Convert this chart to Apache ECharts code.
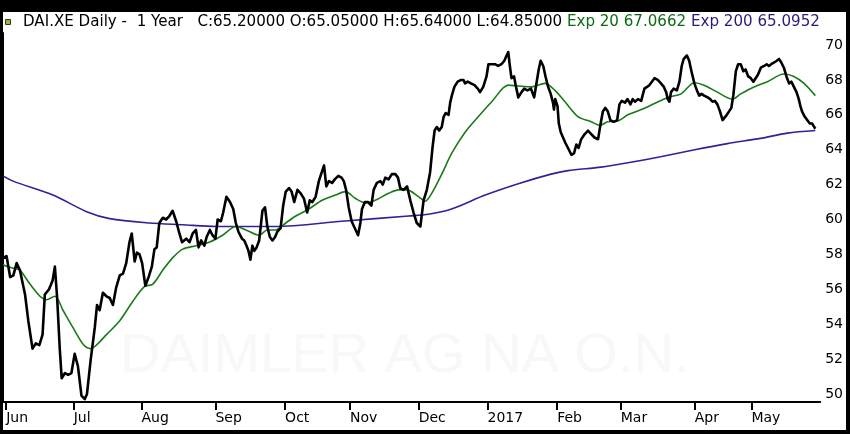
<!DOCTYPE html>
<html>
<head>
<meta charset="utf-8">
<script src="https://cdn.jsdelivr.net/npm/echarts@6/dist/echarts.min.js"></script>
<style>
  html, body { margin: 0; padding: 0; background: #000; width: 850px; height: 434px; overflow: hidden; }
  #chart { position: absolute; left: 3px; top: 12px; width: 843px; height: 418px; background: #fff; }
</style>
</head>
<body>
<div id="chart"></div>
<script>
// x values are trading-day positions counted from the start of the window
const monthLabels = ['Jun', 'Jul', 'Aug', 'Sep', 'Oct', 'Nov', 'Dec', '2017', 'Feb', 'Mar', 'Apr', 'May'];
const monthStartDay = [1, 21.8, 42.7, 65.5, 87, 107, 128.2, 149.4, 170.9, 190.5, 213.3, 230.8];
const priceTicks = [50, 52, 54, 56, 58, 60, 62, 64, 66, 68, 70];

const closeJunAug = [[0.1,57.8],[1.1,57.9],[2.2,56.7],[3.2,56.8],[4.2,57.5],[5.2,57.1],[6.8,55.7],[7.8,54.2],[9.1,52.6],[10.1,52.9],[11.2,52.8],[12.2,53.4],[12.9,55.7],[14.2,56.0],[15.3,56.5],[16.0,57.3],[16.7,55.5],[17.5,52.6],[18.1,50.9],[19.1,51.2],[20.1,51.1],[21.1,51.2],[22.1,52.3],[23.1,51.6],[24.2,49.9],[25.2,49.7],[25.9,50.0],[27.0,51.9],[28.3,53.8],[29.0,55.1],[29.8,54.8],[30.8,55.8],[31.9,55.6],[32.9,55.5],[33.9,55.1],[34.9,56.1],[36.0,56.8],[37.0,56.9],[38.0,57.5],[39.0,58.7],[39.7,59.2],[40.6,57.6],[41.3,58.1],[42.1,58.0],[42.9,57.5],[43.9,56.2],[44.9,56.7],[45.9,57.3],[46.7,58.3],[47.4,58.4],[48.2,59.8],[49.3,60.1],[50.3,60.0],[51.3,60.2],[52.3,60.5],[53.4,59.9],[54.4,59.2],[55.2,58.7],[56.5,58.9],[57.5,58.7],[58.5,59.2],[59.5,59.4],[60.3,58.4],[61.1,58.8],[62.1,58.5],[62.8,59.0],[63.8,59.4]];
const closeSepNov = [[64.6,59.1],[65.5,58.9],[66.2,60.0],[67.2,59.9],[67.9,60.4],[68.9,61.3],[70.0,61.0],[71.0,60.6],[71.8,59.8],[72.6,59.3],[73.7,58.9],[74.4,58.8],[75.1,58.5],[75.7,58.2],[76.3,57.7],[76.9,58.5],[77.5,58.2],[78.2,58.4],[79.0,58.8],[80.0,60.5],[80.8,60.7],[81.5,59.6],[82.3,59.0],[83.1,58.8],[83.9,59.0],[84.6,59.3],[85.6,59.5],[86.4,60.8],[87.2,61.6],[88.2,61.8],[89.0,61.6],[89.8,61.0],[90.8,61.7],[91.8,61.5],[92.8,61.2],[93.8,60.4],[94.6,61.1],[95.4,61.0],[96.4,61.3],[97.4,62.2],[98.1,62.6],[99.0,63.1],[99.7,61.9],[100.5,62.2],[101.5,62.1],[102.3,62.3],[103.4,62.5],[104.4,62.4],[105.1,62.2],[105.8,61.7],[106.6,60.7],[107.5,59.9],[108.5,59.5],[109.5,59.1],[110.2,59.8],[110.7,60.6],[111.6,61.0],[112.6,61.0],[113.6,60.8],[114.3,61.7],[115.3,62.1],[116.4,62.2],[117.1,62.0],[117.9,62.4],[118.9,62.3],[119.9,62.6],[121.0,62.6],[121.8,62.4],[122.5,61.8],[123.5,61.7],[124.6,61.9],[125.6,61.1],[126.6,60.4],[127.6,59.8],[128.7,59.6]];
const closeDecFeb = [[129.2,59.7],[129.7,61.1],[130.7,61.7],[131.7,62.7],[132.5,64.2],[133.1,65.1],[133.8,65.3],[134.5,65.1],[135.3,65.3],[135.9,65.9],[136.5,66.1],[137.4,66.0],[137.9,66.7],[138.4,67.1],[139.2,67.6],[140.2,67.9],[141.3,68.0],[142.0,68.0],[142.5,67.8],[143.3,67.9],[144.3,67.8],[145.4,67.7],[146.4,67.5],[147.1,67.3],[148.1,67.6],[149.1,68.2],[149.7,68.9],[150.7,68.9],[151.7,68.9],[152.7,68.8],[153.7,68.9],[154.6,69.1],[155.3,69.4],[155.8,69.6],[156.3,68.8],[156.8,68.1],[157.6,68.2],[158.1,67.7],[158.9,67.0],[159.9,67.3],[160.7,67.5],[161.7,67.4],[162.8,67.5],[163.8,67.0],[164.5,67.8],[165.2,68.6],[165.8,69.1],[166.6,68.8],[167.3,68.2],[168.1,67.6],[168.9,67.2],[169.6,66.7],[169.9,66.3],[170.3,66.9],[171.0,66.5],[171.4,65.5],[172.0,65.0],[172.7,64.7],[173.4,64.4],[174.5,64.0],[175.3,63.7],[176.1,63.8],[176.8,64.3],[177.5,64.1],[178.3,64.6],[179.4,64.9],[180.4,65.1],[181.4,64.9],[182.4,64.7],[183.5,64.6],[184.3,65.5],[185.0,66.2],[185.7,66.4],[186.5,66.2],[187.3,65.7],[188.3,65.6],[189.4,65.7],[190.1,66.6],[190.8,66.8],[191.8,66.7],[192.6,66.9]];
const closeMarMay = [[193.5,66.6],[194.2,66.9],[194.9,66.75],[195.8,66.9],[196.8,66.8],[197.8,67.5],[198.6,67.6],[199.3,67.7],[200.1,67.9],[200.9,68.1],[201.9,68.0],[202.9,67.8],[203.8,67.6],[204.5,67.3],[205.0,66.9],[205.5,66.75],[206.0,67.3],[206.8,67.5],[207.8,67.4],[208.6,67.9],[209.3,68.8],[209.9,69.2],[210.9,69.4],[211.6,69.1],[212.3,68.5],[213.2,67.8],[214.0,67.4],[214.7,67.1],[215.4,67.2],[216.2,67.1],[217.3,67.0],[218.1,66.9],[218.8,66.75],[219.5,66.8],[220.3,66.6],[221.1,66.2],[221.9,65.7],[222.4,65.6],[223.2,66.0],[223.9,66.2],[224.6,66.4],[225.2,67.1],[226.0,68.5],[226.7,68.9],[227.5,68.9],[228.3,68.5],[229.0,68.6],[229.8,68.2],[230.6,68.1],[231.4,67.9],[232.1,68.1],[232.8,68.3],[233.7,68.7],[234.7,68.8],[235.5,68.9],[236.2,68.8],[236.9,68.9],[237.8,69.0],[238.6,69.1],[239.3,69.2],[240.0,69.0],[240.8,68.7],[241.6,68.2],[242.4,67.8],[243.1,67.9],[243.9,67.6],[244.7,67.3],[245.4,66.9],[245.9,66.5],[246.4,66.2],[247.2,65.9],[248.0,65.7],[248.8,65.5],[249.5,65.5],[250.0,65.35],[250.5,65.2]];

const exp20 = [[0,57.4],[3.2,57.2],[5.2,57.1],[8.3,56.3],[11.4,55.6],[13.4,55.4],[16,55.6],[18.5,54.8],[21.6,53.8],[24.7,52.85],[27,52.6],[28.8,52.8],[31.9,53.4],[36,54.2],[40,55.3],[43.6,56.15],[46.2,56.3],[49.3,57.1],[52.3,57.8],[55.4,58.3],[59.5,58.5],[63.6,58.7],[67.7,59.1],[71.8,59.6],[74.9,59.4],[79,59.1],[81.5,59.4],[84.1,59.4],[87.2,59.8],[90.3,60.2],[94.3,60.6],[98.4,61.1],[102.5,61.4],[105.6,61.6],[108.7,61.2],[111.8,60.95],[114.8,61.1],[118.9,61.5],[122,61.7],[124.6,61.7],[128.2,61.3],[130.2,61.05],[132.2,61.5],[135.3,62.6],[138.4,63.8],[142.5,65.0],[146.6,65.9],[150.7,66.75],[155.8,67.7],[158.9,67.65],[163,67.6],[167.1,67.8],[170.2,67.4],[173.3,66.75],[177.3,65.9],[181.4,65.6],[184,65.4],[186.5,65.6],[189.6,65.65],[192.7,66.0],[196.8,66.3],[200.9,66.65],[205,67.0],[209.1,67.2],[213.2,67.84],[216.2,67.7],[220.3,67.3],[224.9,66.9],[227.5,67.2],[231.6,67.6],[235.7,67.9],[240.8,68.34],[243.9,68.2],[247,67.8],[250.5,67.1]];
const exp200 = [[0,62.5],[3.1,62.2],[15.4,61.4],[25.8,60.45],[32.9,60.05],[45.2,59.8],[55.3,59.7],[65.8,59.6],[84.2,59.6],[104.5,59.9],[125.1,60.2],[131.2,60.3],[138.3,60.6],[148.7,61.4],[158.9,62.05],[169,62.6],[174.2,62.8],[184.4,63.0],[192.7,63.25],[202.8,63.6],[213.3,64.0],[223.4,64.35],[233.6,64.65],[241.9,64.95],[250.5,65.1]];

const close = closeJunAug.concat(closeSepNov, closeDecFeb, closeMarMay);

const FONT = 'DejaVu Sans';
const TS = 15.1;
const chart = echarts.init(document.getElementById('chart'), null, { renderer: 'canvas' });
chart.setOption({
  animation: false,
  backgroundColor: '#fff',
  title: {
    left: 20, top: 3, padding: 0,
    text: '{k|DAI.XE Daily -  1 Year   C:65.20000 O:65.05000 H:65.64000 L:64.85000} {g|Exp 20 67.0662} {p|Exp 200 65.0952}',
    textStyle: {
      fontWeight: 'normal', fontFamily: FONT, fontSize: TS,
      rich: {
        k: { color: '#000', fontFamily: FONT, fontSize: TS, fontWeight: 'normal' },
        g: { color: '#0b6b12', fontFamily: FONT, fontSize: TS, fontWeight: 'normal' },
        p: { color: '#2a1a7e', fontFamily: FONT, fontSize: TS, fontWeight: 'normal' }
      }
    }
  },
  graphic: [
    { type: 'rect', left: 2, top: 7, shape: { width: 5, height: 5 }, style: { fill: '#a4b035', stroke: '#333', lineWidth: 1 }, z: 10 },
    { type: 'text', left: 117, top: 317, z: 0,
      style: { text: 'DAIMLER AG NA O.N.', font: '56px "Liberation Sans"', fill: '#f8f8f8' } }
  ],
  grid: { left: 0, right: 23, top: 21, bottom: 28, containLabel: false },
  xAxis: {
    type: 'value', min: 0, max: 252,
    splitLine: { show: false },
    axisLine: { show: true, onZero: false, lineStyle: { color: '#000', width: 2 } },
    axisTick: { show: true, customValues: monthStartDay, length: 8, inside: false, lineStyle: { color: '#000', width: 2 } },
    axisLabel: {
      customValues: monthStartDay,
      formatter: function (v) {
        let best = 0, bd = Infinity;
        monthStartDay.forEach(function (d, i) { const dd = Math.abs(d - v); if (dd < bd) { bd = dd; best = i; } });
        return monthLabels[best];
      },
      align: 'left', margin: 9, color: '#000', fontFamily: FONT, fontSize: 14
    }
  },
  yAxis: {
    type: 'value', position: 'right', min: 49.54, max: 70.69,
    splitLine: { show: false },
    axisLine: { show: true, lineStyle: { color: '#000', width: 2 } },
    axisTick: { show: false },
    axisLabel: { customValues: priceTicks, margin: 5, color: '#000', fontFamily: FONT, fontSize: 14 }
  },
  series: [
    { name: 'EMA200', type: 'line', data: exp200, smooth: 0.3, showSymbol: false, z: 2,
      lineStyle: { color: '#35209a', width: 1.6 } },
    { name: 'EMA20', type: 'line', data: exp20, smooth: 0.3, showSymbol: false, z: 3,
      lineStyle: { color: '#1a7a1a', width: 1.6 } },
    { name: 'Close', type: 'line', data: close, showSymbol: false, z: 4,
      lineStyle: { color: '#000', width: 2.6, join: 'round' } }
  ]
});
</script>
</body>
</html>
